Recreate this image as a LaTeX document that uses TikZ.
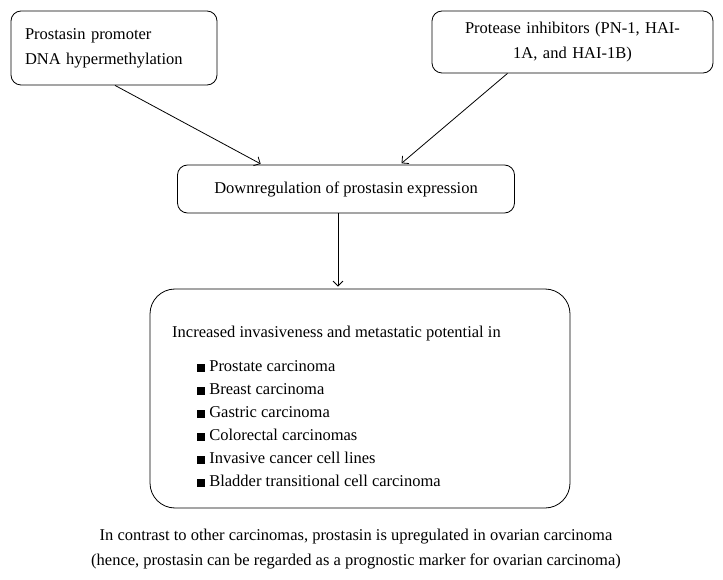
\documentclass[tikz,border=0pt]{standalone}
\usepackage{fontspec}
\setmainfont{Liberation Serif}
\usetikzlibrary{arrows.meta}
\begin{document}
\begin{tikzpicture}[x=1pt,y=-1pt,
  box/.style={draw, rounded corners=10pt, line width=0.8pt, inner sep=0pt},
  arr/.style={-{Straight Barb[length=5pt,width=10pt]}, line width=0.8pt},
  txt/.style={font=\fontsize{16.5}{25}\selectfont}]
\useasboundingbox (0,0) rectangle (723,580);
\node[box, txt, minimum width=206, minimum height=74, text width=178, align=left] (tl) at (114,48)
  {Prostasin promoter\\DNA hypermethylation};
\node[box, txt, minimum width=281, minimum height=62, text width=270, align=center] (tr) at (572.5,42)
  {Protease inhibitors (PN-1, HAI-\\1A, and HAI-1B)};
\node[box, txt, minimum width=337, minimum height=48] (mid) at (346,189)
  {Downregulation of prostasin expression};
\node[box, rounded corners=25pt, minimum width=420, minimum height=219] (big) at (360,398.5) {};
\node[font=\fontsize{16.5}{23}\selectfont, anchor=north west, inner sep=0pt, align=left] (list) at (172,326)
  {Increased invasiveness and metastatic potential in\\[11pt]
   \hspace*{25pt}\rule{8pt}{7.5pt} Prostate carcinoma\\
   \hspace*{25pt}\rule{8pt}{7.5pt} Breast carcinoma\\
   \hspace*{25pt}\rule{8pt}{7.5pt} Gastric carcinoma\\
   \hspace*{25pt}\rule{8pt}{7.5pt} Colorectal carcinomas\\
   \hspace*{25pt}\rule{8pt}{7.5pt} Invasive cancer cell lines\\
   \hspace*{25pt}\rule{8pt}{7.5pt} Bladder transitional cell carcinoma};
\node[txt, align=center, inner sep=0pt] (note) at (356,549)
  {In contrast to other carcinomas, prostasin is upregulated in ovarian carcinoma\\
   (hence, prostasin can be regarded as a prognostic marker for ovarian carcinoma)};
\draw[arr, shorten >=1.5pt] ([xshift=1pt]tl.south) -- ([xshift=-84pt]mid.north);
\draw[arr, shorten >=2pt] ([xshift=-65pt]tr.south) -- ([xshift=54pt]mid.north);
\draw[arr, shorten >=2pt] ([xshift=-8pt]mid.south) -- ([xshift=-8pt]mid.south |- big.north);
\end{tikzpicture}
\end{document}
